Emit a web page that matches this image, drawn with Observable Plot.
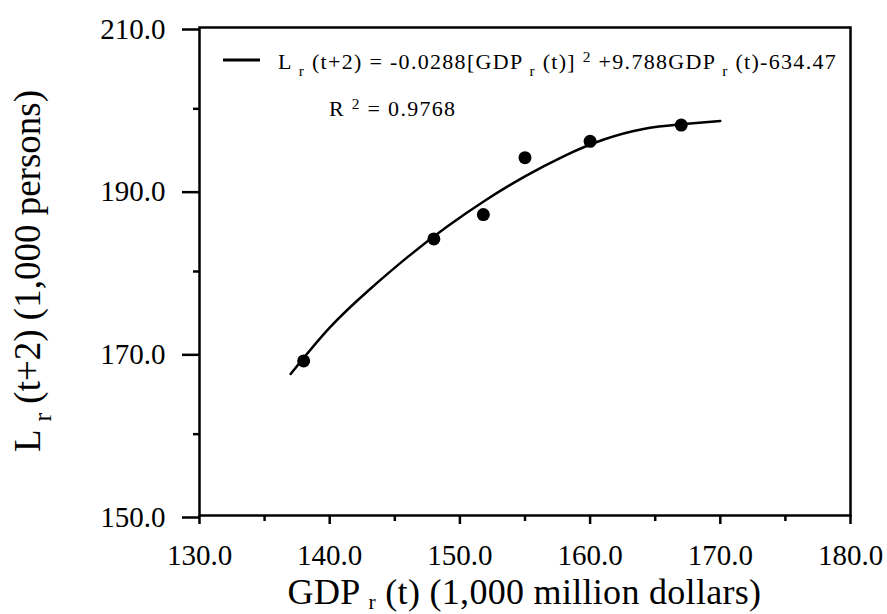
<!DOCTYPE html>
<html><head><meta charset="utf-8">
<script src="https://cdn.jsdelivr.net/npm/d3@7"></script>
<script src="https://cdn.jsdelivr.net/npm/@observablehq/plot@0.6"></script>
<style>body{margin:0;background:#fff} svg{display:block} svg text{font-family:"Liberation Serif","DejaVu Serif",serif !important}</style>
</head><body><div id="chart"></div>
<script>
// observed data
const gdp = [138, 148, 151.8, 155, 160, 167];
const labor = [169, 184, 187, 194, 196, 198];
// fitted curve
const fitX = [137, 140, 143, 146, 149, 152, 155, 158, 161, 164, 167, 170];
const fitY = [167.4, 173.1, 177.7, 181.8, 185.5, 188.8, 191.7, 194.2, 196.2, 197.5, 198.1, 198.5];
// ticks
const xMajor = [130, 140, 150, 160, 170, 180];
const xMinor = [135, 145, 155, 165, 175];
const yMajor = [150, 170, 190, 210];
const yMinor = [160, 180, 200];
const legendEq = [["L",""],[" ",""],["r","sub"],[" (t+2) = -0.0288[GDP",""],[" ",""],["r","sub"],[" (t)]",""],[" ",""],["2","sup"],[" +9.788GDP",""],[" ",""],["r","sub"],[" (t)-634.47",""]];
const legendR2 = [["R",""],[" ",""],["2","sup"],[" = 0.9768",""]];
const xTitle = [["GDP",""],[" ",""],["r","sub"],[" (t) (1,000 million dollars)",""]];
const yTitle = [["L",""],[" ",""],["r","sub"],[" (t+2) (1,000 persons)",""]];

const points = gdp.map((x, i) => ({x, y: labor[i]}));
const fit = fitX.map((x, i) => ({x, y: fitY[i]}));

const W = 887, H = 614, ML = 199, MR = 37, MT = 27, MB = 99;
const FONT = "Liberation Serif, DejaVu Serif, serif";
const fmt = d => d.toFixed(1);

const chart = Plot.plot({
  width: W, height: H,
  marginLeft: ML, marginRight: MR, marginTop: MT, marginBottom: MB,
  style: {fontFamily: FONT, color: "#000", background: "#fff"},
  x: {domain: [130, 180], label: null},
  y: {domain: [150, 210], label: null},
  marks: [
    Plot.axisX({ticks: xMinor, tickSize: 6, text: null, label: null, strokeWidth: 2.5}),
    Plot.axisY({ticks: yMinor, tickSize: 6, text: null, label: null, strokeWidth: 2.5}),
    Plot.axisX({ticks: xMajor, tickSize: 9, tickPadding: 20, tickFormat: fmt, fontSize: 29, label: null, strokeWidth: 2.5}),
    Plot.axisY({ticks: yMajor, tickSize: 17, tickPadding: 17, tickFormat: fmt, fontSize: 29, label: null, strokeWidth: 2.5, dy: 2}),
    Plot.frame({stroke: "#000", strokeWidth: 2.5}),
    Plot.line(fit, {x: "x", y: "y", curve: "natural", stroke: "#000", strokeWidth: 2.5}),
    Plot.dot(points, {x: "x", y: "y", r: 6.5, fill: "#000", stroke: "none"})
  ]
});
document.getElementById("chart").append(chart);

const svg = d3.select(chart);
function rich(parent, segs, x, y, size, opts = {}) {
  const t = parent.append("text")
    .attr("x", x).attr("y", y)
    .attr("font-size", size)
    .attr("fill", "#000")
    .attr("font-family", FONT)
    .attr("text-anchor", opts.anchor || "start")
    .style("white-space", "pre");
  if (opts.ls) t.attr("letter-spacing", opts.ls);
  if (opts.transform) t.attr("transform", opts.transform);
  const subK = opts.sub || 0.3;
  const subS = opts.subSize || 0.7;
  let shift = 0;
  for (const [s, k] of segs) {
    const target = k === "sub" ? size * subK : k === "sup" ? -size * 0.33 : 0;
    const sp = t.append("tspan").text(s).attr("dy", target - shift);
    if (k) sp.attr("font-size", size * subS);
    shift = target;
  }
  if (shift) t.append("tspan").text("\u200b").attr("dy", -shift);
  return t;
}

// legend
svg.append("line").attr("x1", 223).attr("x2", 260).attr("y1", 60).attr("y2", 60)
  .attr("stroke", "#000").attr("stroke-width", 3);
rich(svg, legendEq, 278, 69, 22, {ls: 1.3});
rich(svg, legendR2, 329, 116, 22, {ls: 1.3});

// axis titles
rich(svg, xTitle, ML + (W - ML - MR) / 2, 604, 36, {anchor: "middle", sub: 0.14, subSize: 0.6, ls: 0.3});
const cy = MT + (H - MT - MB) / 2;
rich(svg, yTitle, 0, 0, 37, {anchor: "middle", transform: `translate(40,${cy}) rotate(-90)`});
</script>
</body></html>
